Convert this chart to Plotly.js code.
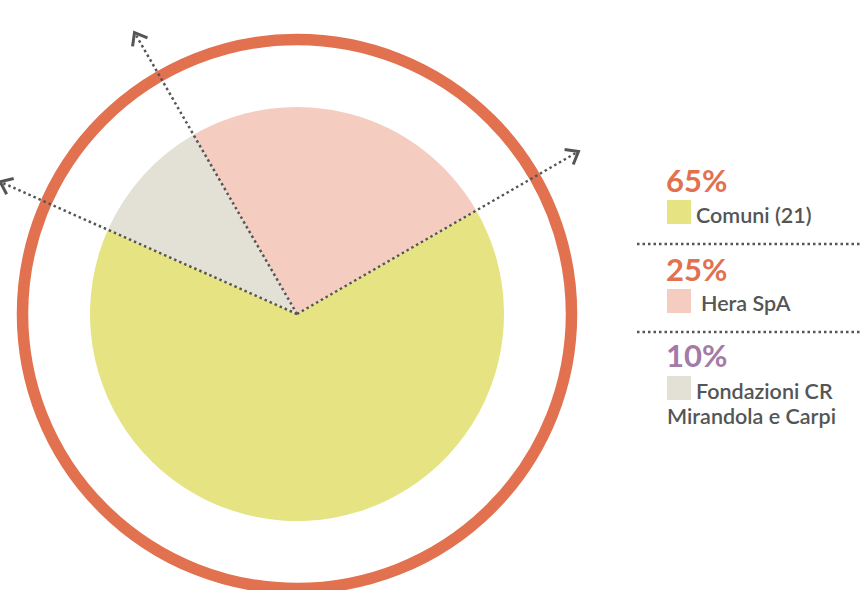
<!DOCTYPE html>
<html><head><meta charset="utf-8">
<script src="https://cdn.plot.ly/plotly-3.0.1.min.js"></script>
<style>html,body{margin:0;padding:0;background:#fff}</style>
</head><body><div id="chart" style="width:862px;height:590px"></div>
<script>
// ---- data ----
const labels = ['Comuni (21)', 'Hera SpA', 'Fondazioni CR Mirandola e Carpi'];
const labelLines = [['Comuni (21)'], ['Hera SpA'], ['Fondazioni CR', 'Mirandola e Carpi']];
const values = [65, 25, 10];
const pctLabels = ['65%', '25%', '10%'];
const sliceColors = ['#e6e383', '#f5cdc0', '#e3e1d5'];
const pctColors = ['#e1714f', '#e1714f', '#a27ba7'];
const pieOrder = [0, 2, 1]; // clockwise order of slices

// ---- geometry ----
const W = 862, H = 590;
const cx = 297, cy = 314, r = 207;
const rotation = 60;
const ringR = 274.5, ringW = 11.5, ringColor = '#e1714f';
const arrowLen = 325, dotColor = '#555555';
const px = x => x / W, py = y => 1 - y / H;

const total = values.reduce((a, b) => a + b, 0);
const pie = {
  type: 'pie',
  labels: pieOrder.map(i => labels[i]),
  values: pieOrder.map(i => values[i]),
  marker: {colors: pieOrder.map(i => sliceColors[i]), line: {width: 0}},
  sort: false, direction: 'clockwise', rotation: rotation,
  textinfo: 'none', hoverinfo: 'none', showlegend: false,
  domain: {x: [px(cx - r), px(cx + r)], y: [py(cy + r), py(cy - r)]}
};

const shapes = [];
shapes.push({type: 'circle', xref: 'paper', yref: 'paper', layer: 'above',
  x0: px(cx - ringR), x1: px(cx + ringR), y0: py(cy + ringR), y1: py(cy - ringR),
  line: {color: ringColor, width: ringW}});

// boundaries from cumulative values
let ang = rotation;
const bounds = [];
pieOrder.forEach(i => { bounds.push(ang); ang += 360 * values[i] / total; });
bounds.forEach(a => {
  const t = a * Math.PI / 180;
  const dx = Math.sin(t), dy = -Math.cos(t);
  const tx = cx + arrowLen * dx, ty = cy + arrowLen * dy;
  shapes.push({type: 'line', xref: 'paper', yref: 'paper', layer: 'above',
    x0: px(cx), y0: py(cy), x1: px(tx), y1: py(ty),
    line: {color: dotColor, width: 2.5, dash: '2.5px,3px'}});
  const back = Math.atan2(-dy, -dx), arm = 14, spread = 38 * Math.PI / 180;
  const a1x = tx + arm * Math.cos(back + spread), a1y = ty + arm * Math.sin(back + spread);
  const a2x = tx + arm * Math.cos(back - spread), a2y = ty + arm * Math.sin(back - spread);
  shapes.push({type: 'path', xref: 'paper', yref: 'paper', layer: 'above',
    path: `M${px(a1x)},${py(a1y)} L${px(tx)},${py(ty)} L${px(a2x)},${py(a2y)}`,
    line: {color: dotColor, width: 3}});
});

// legend
const pctY = [180, 269, 355];
const sqTop = [200, 289, 376], sq = 24, legX = 667;
const lineY = [[215], [303], [391, 416]];
const lineX = [[694], [699], [694, 665]];
const annotations = [];
values.forEach((v, i) => {
  annotations.push({xref: 'paper', yref: 'paper', x: px(legX - 3), y: py(pctY[i]),
    xanchor: 'left', yanchor: 'middle', showarrow: false, text: pctLabels[i],
    font: {family: 'Lato, sans-serif', size: 31, weight: 'bold', color: pctColors[i]}});
  shapes.push({type: 'rect', xref: 'paper', yref: 'paper', layer: 'above',
    x0: px(legX), x1: px(legX + sq), y0: py(sqTop[i] + sq), y1: py(sqTop[i]),
    fillcolor: sliceColors[i], line: {width: 0}});
  labelLines[i].forEach((t, j) => {
    annotations.push({xref: 'paper', yref: 'paper', x: px(lineX[i][j]), y: py(lineY[i][j]),
      xanchor: 'left', yanchor: 'middle', showarrow: false, text: t,
      font: {family: 'Lato, sans-serif', size: 21.5, weight: 600, color: '#555555'}});
  });
});
[244, 332].forEach(y => shapes.push({type: 'line', xref: 'paper', yref: 'paper', layer: 'above',
  x0: px(637), x1: px(862), y0: py(y), y1: py(y),
  line: {color: dotColor, width: 2.5, dash: '2.5px,3px'}}));

Plotly.newPlot('chart', [pie], {
  width: W, height: H, margin: {l: 0, r: 0, t: 0, b: 0},
  paper_bgcolor: '#ffffff', plot_bgcolor: '#ffffff', showlegend: false,
  shapes: shapes, annotations: annotations
}, {staticPlot: true, displayModeBar: false});
</script></body></html>
